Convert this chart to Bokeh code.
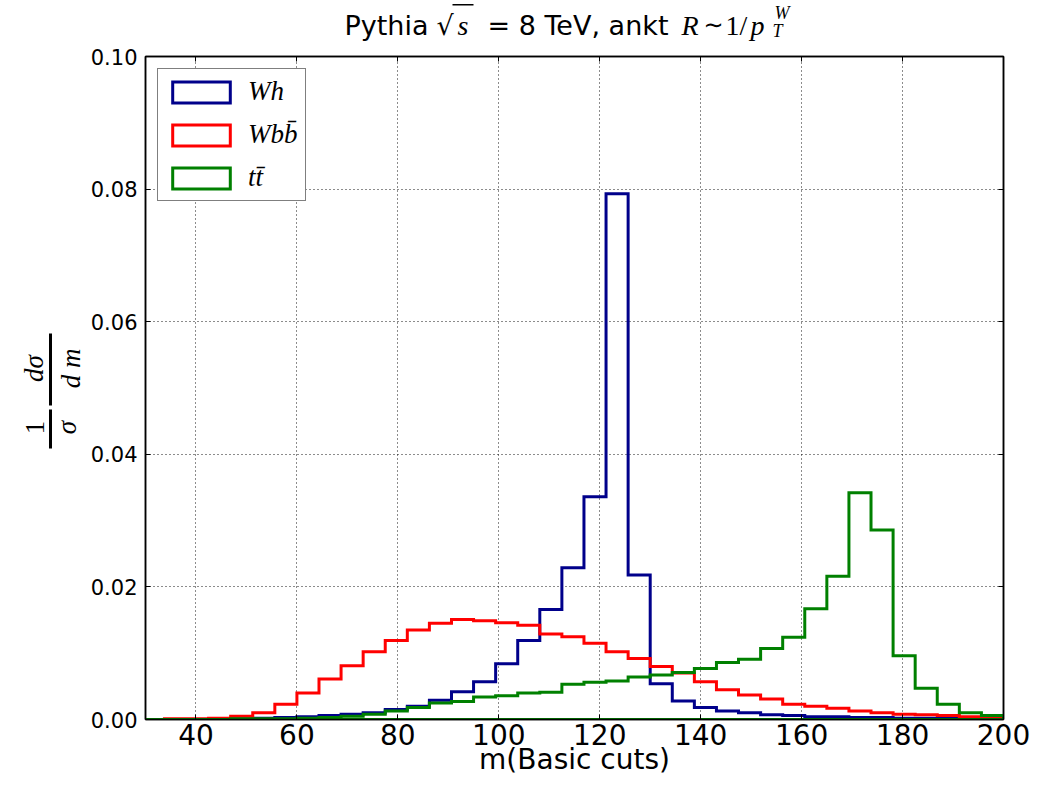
import numpy as np
from bokeh.plotting import figure
from bokeh.layouts import column, row
from bokeh.models import (Range1d, LinearAxis, FixedTicker, NumeralTickFormatter,
                          CustomJSTickFormatter, Label, Legend, LegendItem, PolyAnnotation)
from bokeh.embed import file_html
from bokeh.resources import INLINE

# ---------------- data ----------------
bin_start = 25.0
bin_width = 4.375
n_bins = 40

wh = [0.0, 0.0, 0.0, 0.0, 0.0001, 0.0001, 0.0002, 0.0003, 0.0004, 0.0006,
      0.0008, 0.0010, 0.0015, 0.0020, 0.0029, 0.0042, 0.0057, 0.0084, 0.0119, 0.0166,
      0.0229, 0.0336, 0.0793, 0.0218, 0.0054, 0.0028, 0.0018, 0.0013, 0.0010, 0.0007,
      0.0006, 0.0004, 0.0004, 0.0003, 0.0003, 0.0002, 0.0002, 0.0002, 0.0001, 0.0001]

wbb = [0.0, 0.0, 0.0001, 0.0001, 0.0002, 0.0005, 0.0010, 0.0023, 0.0040, 0.0061,
       0.0081, 0.0102, 0.0119, 0.0135, 0.0145, 0.0151, 0.0149, 0.0146, 0.0142, 0.0129,
       0.0125, 0.0115, 0.0102, 0.0092, 0.0080, 0.0070, 0.0057, 0.0045, 0.0037, 0.0031,
       0.0023, 0.0020, 0.0017, 0.0013, 0.0010, 0.0008, 0.0007, 0.0006, 0.0004, 0.0003]

tt = [0.0, 0.0, 0.0, 0.0, 0.0, 0.0001, 0.0001, 0.0001, 0.0002, 0.0003,
      0.0005, 0.0008, 0.0013, 0.0018, 0.0025, 0.0027, 0.0034, 0.0036, 0.0040, 0.0041,
      0.0053, 0.0056, 0.0058, 0.0064, 0.0067, 0.0071, 0.0077, 0.0086, 0.0091, 0.0107,
      0.0124, 0.0167, 0.0216, 0.0342, 0.0286, 0.0096, 0.0047, 0.0023, 0.0010, 0.0006]

series_labels = ["Wh", "Wbb\u0304", "tt\u0304"]
series_colors = ["#00008b", "#ff0000", "#008000"]

x_ticks = [40, 60, 80, 100, 120, 140, 160, 180, 200]
y_ticks = [0.0, 0.02, 0.04, 0.06, 0.08, 0.10]

# ---------------- layout geometry ----------------
W, H = 1047, 791
TOP_H = 43          # title strip height
LEFT_W = 85         # y-label strip width
MAIN_W = W - LEFT_W
MAIN_H = H - TOP_H
BORDER_TOP = 13
BORDER_BOTTOM = 72
FRAME_BOTTOM = H - BORDER_BOTTOM   # canvas y of the frame bottom
PT_SHIFT = 10       # measured offset of the title strip's frame

def strip(w, h, top=0, bottom=0):
    f = figure(width=w, height=h, x_range=Range1d(0, w), y_range=Range1d(0, h),
               title=None,
               min_border=0, min_border_left=0, min_border_right=0,
               min_border_top=top, min_border_bottom=bottom,
               toolbar_location=None, output_backend="svg",
               x_axis_location=None, y_axis_location=None)
    f.outline_line_color = None
    f.grid.visible = False
    f.background_fill_color = "white"
    f.border_fill_color = "white"
    return f

def put(fig, text, x, y, size, font="DejaVu Sans", style="normal", align="left",
        baseline="alphabetic", angle=0.0):
    fig.add_layout(Label(x=x, y=y, x_units="screen", y_units="screen",
                         text=text, text_font=font, text_font_style=style,
                         text_font_size=f"{size}px", text_color="black",
                         text_align=align, text_baseline=baseline, angle=angle))

def bar(fig, xs, ys):
    fig.add_layout(PolyAnnotation(xs=xs, ys=ys, xs_units="screen", ys_units="screen",
                                  fill_color="black", fill_alpha=1,
                                  line_color="black", line_width=0))

# ---------------- main figure ----------------
p = figure(width=MAIN_W, height=MAIN_H, output_backend="svg", toolbar_location=None,
           title=None,
           x_range=Range1d(30, 200), y_range=Range1d(0, 0.10),
           min_border_left=60, min_border_right=44,
           min_border_top=BORDER_TOP, min_border_bottom=BORDER_BOTTOM,
           x_axis_location=None, y_axis_location=None)
p.background_fill_color = "white"
p.border_fill_color = "white"
p.outline_line_color = "black"
p.outline_line_width = 1.5

def style_axis(ax, ticks, show_labels):
    ax.ticker = FixedTicker(ticks=ticks)
    ax.major_tick_in = 5
    ax.major_tick_out = 0
    ax.minor_tick_in = 0
    ax.minor_tick_out = 0
    ax.minor_tick_line_color = None
    ax.major_tick_line_color = "black"
    ax.axis_line_color = "black"
    ax.axis_line_width = 1.5
    ax.major_label_text_color = "black"
    ax.major_label_text_font = "DejaVu Sans"
    if not show_labels:
        ax.formatter = CustomJSTickFormatter(code="return ''")
        ax.major_label_text_font_size = "1px"
        ax.major_label_standoff = 0

xb = LinearAxis()
style_axis(xb, x_ticks, True)
xb.major_label_text_font_size = "28px"
xb.major_label_standoff = 4
xb.axis_label = "m(Basic cuts)"
xb.axis_label_text_font = "DejaVu Sans"
xb.axis_label_text_font_style = "normal"
xb.axis_label_text_font_size = "28px"
xb.axis_label_text_color = "black"
xb.axis_label_standoff = -5
p.add_layout(xb, "below")

yl = LinearAxis()
style_axis(yl, y_ticks, True)
yl.major_label_text_font_size = "21px"
yl.major_label_standoff = 8
yl.formatter = NumeralTickFormatter(format="0.00")
p.add_layout(yl, "left")

xt = LinearAxis(); style_axis(xt, x_ticks, False); p.add_layout(xt, "above")
yr = LinearAxis(); style_axis(yr, y_ticks, False); p.add_layout(yr, "right")

p.xgrid.ticker = FixedTicker(ticks=x_ticks)
p.ygrid.ticker = FixedTicker(ticks=y_ticks)
for g in (p.xgrid, p.ygrid):
    g.grid_line_color = "black"
    g.grid_line_dash = "1 3"
    g.grid_line_width = 1
    g.grid_line_alpha = 0.9

# ---------------- histograms (step outlines) ----------------
edges = bin_start + bin_width * np.arange(n_bins + 1)
legend_items = []
for vals, lab, col in zip([wh, wbb, tt], series_labels, series_colors):
    xs = np.repeat(edges, 2)
    ys = np.concatenate([[0.0], np.repeat(np.asarray(vals, dtype=float), 2), [0.0]])
    r = p.patch(xs, ys, fill_color=None, line_color=col, line_width=3, line_join="miter")
    legend_items.append(LegendItem(label=lab, renderers=[r]))

legend = Legend(items=legend_items, location="top_left")
legend.margin = 12
legend.padding = 7
legend.spacing = 12
legend.glyph_width = 72
legend.glyph_height = 26
legend.label_height = 26
legend.label_standoff = 11
legend.label_text_font = "Liberation Serif"
legend.label_text_font_style = "italic"
legend.label_text_font_size = "27px"
legend.label_text_color = "black"
legend.border_line_color = "black"
legend.border_line_width = 1.5
legend.background_fill_alpha = 1
p.add_layout(legend)

# ---------------- title strip ----------------
pt = strip(W, TOP_H)
BASE = 35
def ty(cy):
    return TOP_H + PT_SHIFT - cy
put(pt, "Pythia", 344, ty(BASE), 27)
put(pt, "\u221a", 436, ty(BASE), 27)
put(pt, "s", 457, ty(BASE), 28, font="Liberation Serif", style="italic")
bar(pt, [452, 473, 473, 452], [ty(13.5), ty(13.5), ty(15), ty(15)])
put(pt, "= 8 TeV, ankt", 487, ty(BASE), 27)
put(pt, "R", 681, ty(BASE), 28, font="Liberation Serif", style="italic")
put(pt, "\u223c", 703, ty(BASE - 1), 24)
put(pt, "1/", 725, ty(BASE), 28, font="Liberation Serif")
put(pt, "p", 750, ty(BASE), 28, font="Liberation Serif", style="italic")
put(pt, "T", 772, ty(BASE + 5), 18, font="Liberation Serif", style="italic")
put(pt, "W", 774, ty(BASE - 13), 18, font="Liberation Serif", style="italic")

# ---------------- y-label strip (frame aligned with the main frame) ----------------
pl = strip(LEFT_W, MAIN_H, top=BORDER_TOP, bottom=BORDER_BOTTOM)
def ly(cy):
    return FRAME_BOTTOM - cy
ang = np.pi / 2
put(pl, "1", 34, ly(427), 27, font="Liberation Serif", align="center", baseline="middle", angle=ang)
put(pl, "\u03c3", 66, ly(427), 27, font="Liberation Serif", style="italic", align="center", baseline="middle", angle=ang)
put(pl, "d\u03c3", 33, ly(368), 27, font="Liberation Serif", style="italic", align="center", baseline="middle", angle=ang)
put(pl, "d m", 70, ly(368), 27, font="Liberation Serif", style="italic", align="center", baseline="middle", angle=ang)
for (y0, y1) in [(409, 448), (333, 405)]:
    bar(pl, [48.5, 51.5, 51.5, 48.5], [ly(y0), ly(y0), ly(y1), ly(y1)])

layout = column(pt, row(pl, p, spacing=0), spacing=0)
open("out.html", "w").write(file_html(layout, INLINE))
